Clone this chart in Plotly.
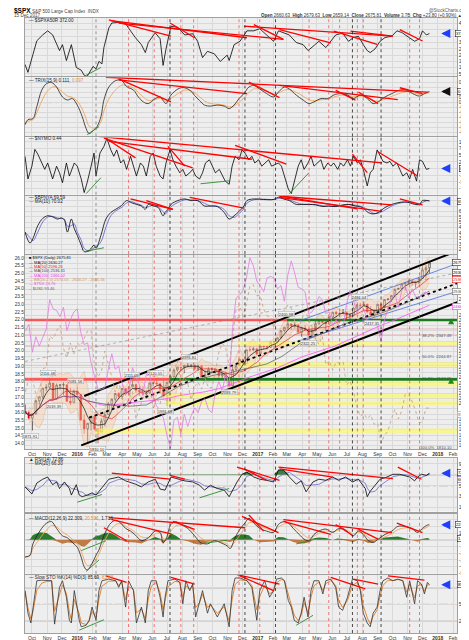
import pandas as pd
import plotly.graph_objects as go

# ------------------------------------------------------------------ DATA
# weekly S&P 500 bars (Fridays, first = 18 Sep 2015)
week_first = "2015-09-18"
spx_first_open = 1963
spx_close = [1958,1931,1951,2014,2033,2075,2079,2099,2023,2089,
             2090,2091,2012,2005,2060,2044,1922,1880,1906,1940,
             1880,1864,1917,1948,1999,2022,2049,2035,2073,2047,
             2081,2092,2065,2057,2046,2052,2099,2099,2096,2071,
             2037,2103,2130,2162,2175,2173,2183,2184,2184,2169,
             2180,2128,2139,2165,2168,2153,2133,2141,2126,2085,
             2164,2182,2213,2192,2259,2258,2263,2239,2277,2275,
             2271,2295,2297,2316,2351,2367,2383,2373,2378,2344,
             2363,2355,2329,2349,2384,2399,2391,2382,2416,2439,
             2432,2433,2438,2423,2425,2459,2473,2472,2477,2441,
             2426,2443,2477,2461,2500,2502,2519,2549,2553,2575,
             2581,2588,2582,2579,2602,2642,2652,2676]
spx_high = [1996,1968,1953,2020,2034,2075,2094,2116,2093,2097,
            2094,2104,2090,2077,2067,2081,2038,1950,1908,1940,
            1947,1882,1930,1963,2009,2025,2052,2056,2075,2074,
            2083,2111,2097,2085,2084,2063,2100,2104,2120,2087,
            2113,2104,2132,2169,2178,2178,2186,2194,2190,2188,
            2188,2187,2163,2175,2175,2169,2163,2148,2154,2131,
            2182,2189,2214,2214,2259,2278,2274,2268,2282,2279,
            2282,2301,2300,2319,2352,2368,2401,2386,2390,2383,
            2370,2378,2361,2362,2398,2400,2404,2406,2418,2440,
            2446,2442,2454,2442,2433,2463,2478,2484,2491,2480,
            2468,2454,2480,2475,2501,2508,2520,2552,2557,2575,
            2582,2597,2595,2586,2605,2658,2665,2680]
spx_low = [1950,1923,1872,1949,1995,2022,2059,2072,2022,2019,
           2067,2042,2008,1993,2005,2038,1918,1857,1812,1872,
           1872,1810,1865,1891,1947,1979,2010,2022,2022,2039,
           2039,2079,2052,2039,2043,2025,2049,2085,2089,2050,
           2033,1992,2074,2125,2154,2157,2147,2174,2175,2160,
           2158,2127,2119,2139,2145,2145,2114,2124,2125,2083,
           2088,2156,2189,2187,2191,2250,2254,2233,2245,2258,
           2258,2267,2268,2289,2313,2342,2355,2354,2364,2339,
           2322,2352,2328,2321,2374,2379,2387,2352,2380,2413,
           2415,2418,2431,2403,2407,2418,2457,2459,2468,2437,
           2418,2417,2428,2446,2472,2495,2488,2520,2547,2550,
           2544,2573,2567,2557,2584,2600,2605,2625]
tnx_x10 = [21.3,21.7,19.9,20.9,20.3,20.8,21.4,23.3,22.7,22.6,
           22.2,22.8,21.3,22.0,22.5,22.7,21.2,20.4,20.5,19.2,
           18.4,17.5,17.5,17.6,18.8,19.8,18.8,19.0,17.9,17.2,
           17.5,18.9,18.3,17.8,17.1,18.5,18.5,17.0,16.4,16.2,
           15.6,14.5,13.7,15.5,15.7,14.6,15.9,15.1,15.8,16.3,
           16.0,16.7,16.9,16.2,16.0,17.3,18.0,17.4,18.5,17.8,
           21.5,23.4,23.6,23.9,24.7,26.0,25.5,24.5,24.2,23.8,
           24.7,24.8,24.7,24.0,24.2,23.2,24.9,25.8,25.0,24.1,
           24.0,23.8,22.4,22.5,22.9,23.5,23.3,22.4,22.5,21.6,
           22.0,21.5,21.5,23.0,23.9,23.3,22.4,22.9,22.7,21.9,
           21.9,21.7,21.6,20.6,22.0,22.6,23.3,23.7,22.8,23.9,
           24.2,23.4,24.0,23.5,23.4,23.7,23.8,23.5]
usd_index = [95.1,96.1,96.1,94.9,94.5,96.8,96.9,99.2,99.0,99.6,
             100.0,98.3,97.6,98.7,97.9,98.7,98.5,99.0,99.6,99.6,
             97.0,96.2,96.6,98.1,97.2,96.2,95.1,95.9,94.6,94.1,
             94.6,95.1,93.1,93.9,94.6,95.3,95.5,93.9,94.6,94.2,
             95.5,95.6,96.3,96.6,97.4,95.6,96.2,95.7,94.5,95.5,
             95.8,95.3,96.1,95.4,95.4,96.6,98.0,98.7,98.3,97.0,
             99.0,101.2,101.5,100.7,101.6,102.9,103.0,102.2,102.2,101.2,
             100.7,100.6,99.8,100.8,100.9,101.1,101.5,101.3,100.3,99.7,
             100.4,101.1,100.5,99.9,99.0,98.6,99.2,97.1,97.4,96.7,
             97.3,97.2,97.3,95.6,95.9,95.1,94.0,93.3,93.5,93.1,
             93.4,92.7,92.8,91.3,91.9,92.2,93.1,93.8,93.1,93.7,
             94.9,94.9,94.4,93.7,92.8,92.9,93.9,93.9]

# indicator readings: days from 1 Jan 2016 / value
a50_days = [-106,-100,-90,-82,-70,-60,-50,-36,-30,-22,-12,-2,8,14,20,26,32,38,44,50,
            54,64,70,84,98,108,118,130,138,144,158,168,174,180,184,190,204,218,234,244,
            254,264,278,290,304,308,318,330,344,358,370,384,398,408,418,430,444,458,468,478,
            490,504,514,524,538,550,560,570,580,588,594,604,614,624,638,648,658,670,684,694,
            700,708,714]
a50_vals = [126,63,204,314,361,393,361,236,283,157,283,102,80,40,30,70,110,90,150,130,
            260,416,455,460,450,393,338,283,220,300,377,330,118,250,330,430,420,360,370,310,
            180,230,210,150,200,157,283,310,393,393,410,360,310,393,380,360,300,283,236,270,
            310,260,310,360,375,310,340,350,283,236,220,250,310,340,350,393,380,350,310,330,
            393,360,372]
trix_days = [-106,-100,-90,-82,-72,-62,-52,-42,-30,-20,-10,0,10,18,24,34,40,48,54,64,
             78,90,100,114,124,134,144,158,168,174,180,190,204,214,228,238,248,258,270,284,
             298,308,318,328,338,348,358,370,384,398,408,420,430,444,458,470,480,494,508,520,
             534,548,560,574,588,600,610,624,638,654,668,680,694,704,714]
trix_vals = [-0.22,-0.17,-0.16,-0.04,0.125,0.19,0.20,0.155,0.056,0.026,
             0.04,-0.025,-0.14,-0.26,-0.31,-0.27,-0.24,-0.14,0.025,0.155,
             0.22,0.22,0.16,0.125,0.056,0.007,-0.01,0.04,0.056,0.02,
             -0.01,0.075,0.135,0.15,0.125,0.07,0.02,-0.025,-0.035,-0.025,
             -0.035,-0.06,-0.025,0.04,0.09,0.155,0.17,0.135,0.09,0.056,
             0.105,0.155,0.135,0.075,0.025,-0.01,0.007,0.04,0.04,0.075,
             0.09,0.075,0.04,0.075,0.04,-0.01,0.007,0.056,0.09,0.125,
             0.125,0.09,0.065,0.09,0.111]
nymo_days = [-106,-100,-92,-86,-80,-72,-66,-60,-50,-42,-36,-30,-22,-16,-6,0,8,14,20,28,
             34,38,46,54,60,68,74,80,88,94,100,108,114,120,128,134,140,148,154,160,
             168,174,180,188,194,200,208,214,220,228,234,240,248,254,260,268,274,280,288,294,
             300,308,314,320,328,334,340,348,354,360,368,374,380,388,394,400,408,414,420,428,
             434,440,448,454,460,468,474,480,488,494,500,508,514,520,528,534,540,548,554,560,
             568,574,580,588,594,600,608,614,620,628,634,640,648,654,660,668,674,680,688,694,
             700,708,714]
nymo_vals = [46,-39,9,72,54,21,-3,21,-39,9,-16,-53,21,-28,21,9,-39,-90,-53,9,
             58,-28,58,83,113,70,46,70,21,33,-3,46,9,-28,21,9,-28,46,58,9,
             -28,-39,21,70,33,9,-16,-3,-28,-16,-3,-28,-39,-16,21,33,9,-16,-3,-28,
             -47,-59,9,46,33,70,58,33,46,21,33,9,21,33,9,15,21,9,-28,-77,
             -94,-53,9,33,-3,21,46,9,21,33,-3,21,9,21,-3,21,9,33,9,46,
             21,33,-3,-65,-16,-3,70,46,27,21,27,9,21,-3,-28,-16,-39,-3,-47,33,
             27,-3,0.44]
bpnya_days = [-106,-96,-90,-80,-70,-60,-50,-40,-32,-26,-20,-12,-6,0,8,14,24,34,38,48,
              58,68,78,90,100,110,120,130,138,144,154,164,174,178,184,190,204,218,230,244,
              258,270,284,298,308,318,328,338,344,358,378,398,408,418,430,444,458,470,484,498,
              510,524,538,550,564,578,590,600,610,624,638,650,664,674,684,694,700,710,714]
bpnya_vals = [41,31,35,47,53.6,56,55,53,54,51.8,41,53,44,38,29,23,24,29,26,38,
              53,59,62,65.5,70,68,66.5,65,62,66.5,65,63.6,56,59,62,66.5,70,71.5,70,70,
              65,65,64.5,59,53,56,60,65,70,71.5,71,71,73,71.5,70,66.5,66.5,66.5,66,64.5,
              65,64.5,66,66.5,65,63.6,59,57.7,59,63.6,66.5,68,68.8,68,66.5,66.5,70,70,69.59]
macd_days = [-106,-96,-90,-76,-62,-52,-42,-30,-20,-10,0,8,14,20,30,38,44,50,58,68,
             78,88,98,108,118,130,144,158,168,174,180,190,200,210,224,238,250,264,278,290,
             304,310,320,330,340,348,358,370,384,398,408,418,428,438,450,460,470,480,490,504,
             518,528,538,550,560,570,580,590,600,610,624,638,650,664,678,690,700,710,714]
macd_vals = [-25.6,-23,-6,13,25,27,17,6,3,-4,-11,-26,-40,-45,-35,-23,-15,-2,13,25,
             29,25,17,13,7,-1,3,13,11,-4,1,23,27,23,17,6,-4,-6,-1,-4,
             -9,-13,3,16,25,32,25,17,13,11,23,27,25,17,8,1,-1,8,13,16,
             11,16,17,11,6,13,8,-1,-4,1,8,13,20,20,17,11,17,22,22.3]
rsi_days = [-106,-96,-92,-82,-70,-60,-50,-42,-36,-26,-16,-12,-2,4,10,20,30,38,48,58,
            64,84,98,118,130,144,158,168,178,190,204,218,234,248,258,270,284,298,308,324,
            334,344,358,370,384,398,408,418,430,444,454,464,478,490,504,518,530,544,558,570,
            584,588,594,604,614,628,640,654,664,674,684,690,698,708,714]
rsi_vals = [48,40,35,55,62,66,52,57,45,57,45,33,52,33,30,33,37,33,45,57,
            62,66,59,53,48,57,62,44,42,66,62,59,57,51,42,51,45,42,30,57,
            71,75,66,62,60,57,79,79,66,53,59,39,57,62,60,66,60,66,57,62,
            45,30,40,50,62,66,71,71,69,66,59,66,71,69,72.86]
sto_days = [-106,-100,-94,-90,-82,-72,-62,-52,-46,-36,-30,-22,-16,-12,-6,4,8,18,24,30,
            38,44,50,64,78,84,90,98,104,114,120,130,138,144,150,160,168,174,178,184,
            198,208,214,220,228,234,240,248,254,264,270,284,298,308,314,320,330,344,354,364,
            370,380,390,398,404,414,420,428,434,440,448,454,460,468,474,480,490,498,504,514,
            524,530,538,548,558,568,574,580,588,594,600,608,614,620,630,640,650,660,668,674,
            684,690,698,704,710,714]
sto_vals = [75,34,16,41,93,94,93,93,14,81,93,63,21,16,75,21,9,12,21,45,
            21,75,93,96,93,81,93,45,93,75,16,45,16,75,93,93,63,27,63,93,
            96,90,51,93,75,87,27,57,75,34,51,27,51,9,75,98,98,93,81,21,
            75,93,63,75,96,98,93,57,45,21,16,34,63,27,75,93,93,69,93,96,
            81,45,39,63,96,93,75,34,16,9,34,45,75,93,98,93,96,93,63,93,
            51,93,87,69,90,85.69]

# analyst trend lines (day0, value0, day1, value1)
a50_red = [(64,481,190,351),(68,474,344,338),(84,455,418,325),(188,455,238,338),(358,442,418,325),
           (338,430,640,351),(410,403,514,298),(520,390,608,285),(554,390,640,351),(654,403,700,312)]
a50_green = [(18,40,48,102)]
trix_red = [(58,0.253,710,0.105),(84,0.237,190,0.007),(84,0.227,344,0.089),(348,0.204,410,0.049),
            (410,0.171,650,0.030),(524,0.122,564,0.024),(570,0.105,610,-0.01),(654,0.148,700,0.089)]
trix_green = [(20,-0.32,44,-0.24)]
nymo_red = [(44,120,618,21),(54,114,234,3),(58,114,118,40),(64,102,354,35),(184,83,218,9),
            (320,87,424,17),(558,54,588,-15),(608,65,690,-28)]
nymo_green = [(18,-94,48,-34),(250,-57,308,-46),(430,-94,470,-15)]
bpnya_red = [(108,71.5,194,61.8),(140,70,194,62),(228,73,338,63),(408,74.5,568,62.4),
             (410,73,618,60),(410,74,638,66),(654,71.5,700,66)]
bpnya_green = [(14,23,54,26.6)]
rsi_red = [(70,73,188,62),(188,69,218,62),(324,84,410,60),(338,81,384,60),(408,84,640,63),
           (410,81,518,66),(650,84,698,62)]
rsi_green = [(0,20,50,34),(248,28,308,45)]
macd_red = [(64,33,340,18),(70,30,190,8.7),(54,18,100,-1.4),(194,27.5,238,15.5),(334,34.8,408,10.6),
            (348,37,378,13),(418,30,638,10.6),(418,27.5,514,8.2),(524,22.7,560,5.8),(570,15.5,610,1),
            (648,25,700,10.6)]
macd_green = [(8,-16,58,-1.4),(18,-47,44,-30),(250,-6,304,-0.4),(444,-6,474,-1.4)]
sto_red = [(58,102,100,90),(190,99,238,87),(324,104,410,87),(330,102,398,75),(514,99,584,78),
           (560,96,610,87),(630,102,704,94)]
sto_green = [(4,3,54,22),(444,12,478,30)]

# price-panel drawings
channel_lines = [(8,1800,802,2515,"black",2.0,"solid"),
                 (14,2037,802,2762,"black",2.0,"solid"),
                 (24,1933,802,2605,"black",1.8,"dot"),
                 (450,2397,802,2700,"#4a6ee0",0.8,"solid"),
                 (450,2302,802,2563,"#4a6ee0",0.8,"solid"),
                 (-106,2203,802,2643,"#888888",0.6,"dot")]
level_lines = [(2402,-106,425,"rgba(255,40,40,0.75)",2.6),(2402,425,770,"#1f7a1f",2.6),
               (2117,-106,188,"rgba(255,40,40,0.75)",2.6),(2117,188,770,"#1f7a1f",2.6),
               (2359,-106,770,"rgba(220,90,90,0.55)",0.6),(2330,-106,770,"rgba(220,90,90,0.55)",0.6),
               (2278,-106,770,"rgba(220,90,90,0.55)",0.6),(2184,-106,770,"rgba(220,90,90,0.55)",0.6),
               (2288,324,770,"rgba(255,250,90,0.6)",4.5),(2188,324,770,"rgba(255,250,90,0.6)",4.5),
               (2094,324,770,"rgba(255,250,90,0.6)",4.5),(2037,178,770,"rgba(255,250,90,0.6)",4.5),
               (2004,178,770,"rgba(255,250,90,0.6)",4.5),(1871,38,770,"rgba(255,250,90,0.6)",4.5)]
fib_labels = [("38.2%  2347.49",2347.49),("50.0%  2244.87",2244.87),("61.8%  2142.25",2142.25),("100.0%  1810.10",1810.10)]
price_notes = [("2015-09-29",1871.91,-1),("2015-11-03",2116.48,1),("2015-11-16",2019.39,-1),
               ("2015-12-29",2081.56,1),("2016-02-11",1810.10,-1),("2016-04-20",2111.05,1),
               ("2016-06-08",2120.55,1),("2016-06-27",1991.68,-1),("2016-08-15",2193.81,1),
               ("2016-11-04",2083.79,-1),("2017-03-01",2400.98,1),("2017-04-13",2322.25,-1),
               ("2017-07-27",2484.04,1),("2017-08-21",2417.35,-1)]
event_lines = [(38,"#777777"),(104,"red"),(156,"red"),(188,"black"),(210,"red"),(236,"red"),
               (328,"red"),(340,"black"),(370,"red"),(402,"black"),(470,"red"),(510,"red"),
               (532,"red"),(558,"black"),(568,"red"),(580,"red"),(616,"black"),(674,"red"),(694,"red")]

# right-edge value boxes: (axis, value, text, border colour, text colour, yshift)
value_boxes = [("y", 372, "372.00", "#222", "#000", 0), ("y2", 0.111, "0.111", "#222", "#000", 0),
               ("y3", 0.44, "0.44", "#222", "#000", 0), ("y4", 69.59, "69.59", "#222", "#000", 0),
               ("y5", 2675.81, "2675.81", "#222", "#000", 0), ("y5", 2630.27, "2630.27", "#222", "#000", 0),
               ("y5", 2596.26, "2596.26", "#e02020", "#e02020", 0), ("y5", 2536.31, "2536.31", "#666", "#444", 0),
               ("y5", 2466.02, "2466.02", "#ee33ee", "#cc22cc", 0), ("y7", 93.46, "93.46", "#c49a78", "#8a5a3a", 0),
               ("y8", 72.86, "72.86", "#222", "#000", 1), ("y8", 66.30, "66.30", "#5a5acd", "#000", -3),
               ("y9", 22.3, "22.309", "#222", "#000", 0), ("y9", 1.72, "1.718", "#222", "#000", 0),
               ("y10", 85.69, "85.69", "#222", "#000", 0)]
arrow_marks = [("y", 372, "#1f3fff"), ("y2", 0.111, "#111"), ("y3", 0.44, "#1f3fff"), ("y4", 69.59, "#1f3fff"),
               ("y8", 72.86, "#1f3fff"), ("y9", 22.3, "#1f3fff"), ("y10", 85.69, "#1f3fff")]

# ------------------------------------------------------------------ helpers
W, H = 469, 640
ML, MR, MT, MB = 15, 16, 10, 7
PW, PH = W - ML - MR, H - MT - MB
def fx(p): return (p - ML) / PW
def fy(p): return (H - MB - p) / PH
def dom(top, bot): return [fy(bot), fy(top)]

BASE = pd.Timestamp("2016-01-01")
def D(d): return BASE + pd.Timedelta(days=int(d))
def dates(ds): return [D(d) for d in ds]

FONT = "Liberation Sans, Arial, sans-serif"
BG, GRID = "#eeeeee", "#d9d9d9"
RED, GREEN, ORANGE, BLUE = "#ff0000", "#2e8b2e", "#f2a65a", "#5a5acd"

fig = go.Figure()

def line(x, y, xa, ya, color, width=0.8, dash="solid", shape="linear"):
    fig.add_trace(go.Scatter(x=x, y=y, xaxis=xa, yaxis=ya, mode="lines",
                             line=dict(color=color, width=width, dash=dash, shape=shape),
                             hoverinfo="skip", showlegend=False))

def segs(lst, xa, ya, color, width):
    xs, ys = [], []
    for d0, v0, d1, v1 in lst:
        xs += [D(d0), D(d1), None]
        ys += [v0, v1, None]
    line(xs, ys, xa, ya, color, width)

panels = {
    "a50":  dict(x="x",  y="y",   top=10,  bot=69,  rng=[32, 495],        ticks=list(range(50, 451, 50)), fmt="%g"),
    "trix": dict(x="x2", y="y2",  top=70,  bot=130, rng=[-0.338, 0.253],  ticks=[round(-0.30 + 0.05*i, 2) for i in range(11)], fmt="%.2f"),
    "nymo": dict(x="x3", y="y3",  top=131, bot=189, rng=[-98, 116.7],     ticks=list(range(-75, 101, 25)), fmt="%g"),
    "bp":   dict(x="x4", y="y4",  top=190, bot=249, rng=[20.9, 74.5],     ticks=list(range(20, 71, 5)), fmt="%g"),
    "main": dict(x="x5", y="y5",  top=250, bot=447, rng=[1781, 2714],     ticks=list(range(1800, 2701, 25)), fmt="%g"),
    "rsi":  dict(x="x6", y="y8",  top=456, bot=510, rng=[2.8, 100.3],     ticks=[10, 30, 50, 70, 90], fmt="%g"),
    "macd": dict(x="x7", y="y9",  top=512, bot=573, rng=[-50.5, 39.1],    ticks=list(range(-50, 31, 10)), fmt="%g"),
    "sto":  dict(x="x8", y="y10", top=574, bot=633, rng=[-2.2, 103.9],    ticks=[20, 50, 80], fmt="%g"),
}
USD_RNG = [90.85, 105.2]

def pix(panel, rng, v):
    return panel["top"] + (rng[1] - v) / (rng[1] - rng[0]) * (panel["bot"] - panel["top"])

# ------------------------------------------------------------------ panel 1-4
p = panels["a50"]
line(dates(a50_days), a50_vals, p["x"], p["y"], "black", 0.8)
segs(a50_red, p["x"], p["y"], RED, 1.3); segs(a50_green, p["x"], p["y"], GREEN, 0.9)

p = panels["trix"]
trix = pd.Series(trix_vals)
line(dates(trix_days), trix.ewm(alpha=0.5).mean().tolist(), p["x"], p["y"], ORANGE, 0.9, shape="spline")
line(dates(trix_days), trix_vals, p["x"], p["y"], "#222222", 0.8, shape="spline")
segs(trix_red, p["x"], p["y"], RED, 1.3); segs(trix_green, p["x"], p["y"], GREEN, 0.9)

p = panels["nymo"]
line(dates(nymo_days), nymo_vals, p["x"], p["y"], "black", 0.8)
segs(nymo_red, p["x"], p["y"], RED, 1.3); segs(nymo_green, p["x"], p["y"], GREEN, 0.9)

p = panels["bp"]
bp = pd.Series(bpnya_vals)
line(dates(bpnya_days), bp.rolling(2, min_periods=1).mean().tolist(), p["x"], p["y"], BLUE, 0.8, shape="spline")
line(dates(bpnya_days), bpnya_vals, p["x"], p["y"], "black", 0.8, shape="spline")
segs(bpnya_red, p["x"], p["y"], RED, 1.3); segs(bpnya_green, p["x"], p["y"], GREEN, 0.9)

# ------------------------------------------------------------------ main price panel
weeks = pd.date_range(week_first, periods=len(spx_close), freq="7D")
close = pd.Series(spx_close, index=weeks)
spx_open = [spx_first_open] + spx_close[:-1]
mid = close.rolling(4, min_periods=2).mean()
sd = close.rolling(4, min_periods=2).std()
bb_up, bb_lo = (mid + 2*sd), (mid - 2*sd)
fig.add_trace(go.Scatter(x=weeks, y=bb_lo, xaxis="x5", yaxis="y5", mode="lines",
                         line=dict(color="rgba(220,160,110,0.7)", width=0.5), hoverinfo="skip", showlegend=False))
fig.add_trace(go.Scatter(x=weeks, y=bb_up, xaxis="x5", yaxis="y5", mode="lines", fill="tonexty",
                         fillcolor="rgba(246,205,168,0.45)",
                         line=dict(color="rgba(220,160,110,0.7)", width=0.5), hoverinfo="skip", showlegend=False))
line(weeks, tnx_x10, "x5", "y6", "#e27ae2", 0.8)
line(weeks, usd_index, "x5", "y7", "#c49a78", 0.8, dash="dot")
for lvl, d0, d1, col, w in level_lines:
    line([D(d0), D(d1)], [lvl, lvl], "x5", "y5", col, w)
for d0, v0, d1, v1, col, w, dash in channel_lines:
    line([D(d0), D(d1)], [v0, v1], "x5", "y5", col, w, dash=dash)
line(weeks, close.rolling(40, min_periods=1).mean(), "x5", "y5", "#ff4cff", 0.8)
line(weeks, close.rolling(20, min_periods=1).mean(), "x5", "y5", "#555555", 0.7)
line(weeks, close.rolling(10, min_periods=1).mean(), "x5", "y5", "#e03030", 0.7)
line(weeks, close.rolling(4, min_periods=1).mean(), "x5", "y5", "#111111", 0.7)
fig.add_trace(go.Candlestick(x=weeks, open=spx_open, high=spx_high, low=spx_low, close=spx_close,
                             xaxis="x5", yaxis="y5", whiskerwidth=0, hoverinfo="skip", showlegend=False,
                             increasing=dict(line=dict(color="black", width=0.6), fillcolor="white"),
                             decreasing=dict(line=dict(color="#dd0000", width=0.6), fillcolor="#dd0000")))
fig.add_trace(go.Scatter(x=[D(758), D(758)], y=[2410, 2125], xaxis="x5", yaxis="y5", mode="markers",
                         marker=dict(symbol="arrow-up", size=6, color="#1a8a1a"), hoverinfo="skip", showlegend=False))

# ------------------------------------------------------------------ RSI
rsi = pd.Series(rsi_vals)
rd = dates(rsi_days)
line(rd, [70]*len(rd), "x6", "y8", "rgba(0,0,0,0)", 0.1)
fig.add_trace(go.Scatter(x=rd, y=rsi.clip(lower=70).tolist(), xaxis="x6", yaxis="y8", mode="lines", fill="tonexty",
                         fillcolor="#3f7f3f", line=dict(width=0, color="rgba(0,0,0,0)"), hoverinfo="skip", showlegend=False))
line(rd, rsi.rolling(3, min_periods=1).mean().tolist(), "x6", "y8", BLUE, 0.7)
line(rd, rsi_vals, "x6", "y8", "black", 0.8)
segs(rsi_red, "x6", "y8", RED, 1.3); segs(rsi_green, "x6", "y8", GREEN, 0.9)

# ------------------------------------------------------------------ MACD
md = dates(macd_days)
macd = pd.Series(macd_vals)
sig = macd.ewm(alpha=0.55).mean()
hist = macd - sig
fig.add_trace(go.Scatter(x=md, y=hist.clip(lower=0).tolist(), xaxis="x7", yaxis="y9", mode="lines", fill="tozeroy",
                         fillcolor="#2f7a2f", line=dict(width=0, color="rgba(0,0,0,0)"), hoverinfo="skip", showlegend=False))
fig.add_trace(go.Scatter(x=md, y=hist.clip(upper=0).tolist(), xaxis="x7", yaxis="y9", mode="lines", fill="tozeroy",
                         fillcolor="#bf7a45", line=dict(width=0, color="rgba(0,0,0,0)"), hoverinfo="skip", showlegend=False))
line(md, sig.tolist(), "x7", "y9", ORANGE, 0.9, shape="spline")
line(md, macd_vals, "x7", "y9", "#222222", 0.8, shape="spline")
segs(macd_red, "x7", "y9", RED, 1.3); segs(macd_green, "x7", "y9", GREEN, 0.9)

# ------------------------------------------------------------------ Slow STO
sd_ = dates(sto_days)
sto = pd.Series(sto_vals)
line(sd_, sto.ewm(alpha=0.7).mean().tolist(), "x8", "y10", "#e0883a", 1.0)
line(sd_, sto_vals, "x8", "y10", "#333333", 0.8)
segs(sto_red, "x8", "y10", RED, 1.3); segs(sto_green, "x8", "y10", GREEN, 0.9)

# ------------------------------------------------------------------ layout
months = pd.date_range("2015-10-01", "2018-02-01", freq="MS")
mtext = [("<b>%d</b>" % m.year) if m.month == 1 else m.strftime("%b") for m in months]
xr = [D(-106), D(770)]
layout = dict(width=W, height=H, margin=dict(l=ML, r=MR, t=MT, b=MB), paper_bgcolor="white",
              plot_bgcolor=BG, showlegend=False, hovermode=False, font=dict(family=FONT, size=5, color="#333"))

# pixel rows covered by value boxes on each panel (tick labels there are left blank)
box_rows = {}
for ax, v, t, bc, fc, ys in value_boxes:
    if ax == "y7":
        key, rng = "main", USD_RNG
    else:
        key = [k for k, pp in panels.items() if pp["y"] == ax][0]
        rng = panels[key]["rng"]
    box_rows.setdefault(key, []).append(pix(panels[key], rng, v) - ys)

for key, p in panels.items():
    xname = "xaxis" + p["x"][1:]
    yname = "yaxis" + p["y"][1:]
    layout[xname] = dict(domain=[0, 1], anchor=p["y"], range=xr, tickmode="array", tickvals=list(months),
                         ticktext=mtext, showticklabels=key in ("main", "sto"), showgrid=True, gridcolor=GRID,
                         gridwidth=0.6, zeroline=False, showline=True, mirror=True, linecolor="#a0a0a0",
                         linewidth=0.7, ticks="", tickfont=dict(size=5, color="#333"),
                         rangeslider=dict(visible=False))
    if p["x"] != "x":
        layout[xname]["matches"] = "x"
    rows = box_rows.get(key, [])
    ttext = []
    for tv in p["ticks"]:
        py = pix(p, p["rng"], tv)
        hidden = any(abs(py - r) < 5.4 for r in rows)
        ttext.append("" if hidden else (p["fmt"] % tv))
    layout[yname] = dict(domain=dom(p["top"], p["bot"]), anchor=p["x"], range=p["rng"], side="right",
                         tickmode="array", tickvals=p["ticks"], ticktext=ttext, showgrid=True,
                         gridcolor=GRID, gridwidth=0.5, zeroline=False, showline=True, mirror=True,
                         linecolor="#a0a0a0", linewidth=0.7, ticks="",
                         tickfont=dict(size=4.6 if key == "main" else 5, color="#333"))
layout["yaxis6"] = dict(overlaying="y5", anchor="x5", side="left", range=[13.62, 26.19],
                        tickmode="array", tickvals=[14 + 0.5*i for i in range(25)], tickformat=".1f",
                        showgrid=False, zeroline=False, ticks="", tickfont=dict(size=4.8, color="#333"))
layout["yaxis7"] = dict(overlaying="y5", anchor="x5", range=USD_RNG, visible=False)

shapes = []
for key, p in panels.items():
    yd = p["y"] + " domain"
    for d, c in event_lines:
        col = {"red": "rgba(235,60,60,0.85)", "black": "#202020"}.get(c, c)
        shapes.append(dict(type="line", xref=p["x"], yref=yd, x0=D(d), x1=D(d), y0=0, y1=1,
                           line=dict(color=col, width=0.8, dash="dot"), layer="above"))
def hline(xa, ya, v, col="#8a8a8a", w=0.8, dash="solid"):
    shapes.append(dict(type="line", xref=xa + " domain", yref=ya, x0=0, x1=1, y0=v, y1=v,
                       line=dict(color=col, width=w, dash=dash), layer="below"))
hline("x2", "y2", 0, "#777", 0.7, "dashdot")
hline("x3", "y3", 0, "#999", 0.5, "dot")
hline("x6", "y8", 70); hline("x6", "y8", 30); hline("x6", "y8", 50, "#777", 0.7, "dashdot")
hline("x7", "y9", 0, "#888", 0.7)
hline("x8", "y10", 80); hline("x8", "y10", 20); hline("x8", "y10", 50, "#777", 0.7, "dashdot")
layout["shapes"] = shapes

ann = []
def txt(x, y, t, size=4.6, color="#222", xa="left", xref="paper", yref="paper", **kw):
    ann.append(dict(x=x, y=y, xref=xref, yref=yref, text=t, showarrow=False, xanchor=xa, yanchor="middle",
                    font=dict(size=size, color=color, family=FONT), **kw))
# header
txt(fx(2), fy(3), "<b>$SPX</b>", 6.5, "#000")
txt(fx(20), fy(3), "S&amp;P 500 Large Cap Index  INDX", 4.6, "#444")
txt(fx(2), fy(7.6), "15 Dec 2017", 4.6, "#444")
txt(fx(466), fy(2.8), "@StockCharts.com", 4.5, "#555", xa="right")
txt(fx(460), fy(7.6), "<b>Open</b> 2660.63  <b>High</b> 2679.63  <b>Low</b> 2659.14  <b>Close</b> 2675.81  "
    "<b>Volume</b> 3.7B  <b>Chg</b> +23.80 (+0.90%) ▲", 4.5, "#333", xa="right")
# panel legends
txt(fx(17), fy(13), "— $SPXA50R 372.00", 4.6, "#222")
txt(fx(17), fy(73), "— TRIX(15,9) 0.111, <span style='color:#e8903a'>0.097</span>", 4.6, "#222")
txt(fx(17), fy(132), "— $NYMO 0.44", 4.6, "#222")
txt(fx(17), fy(192), "— $BPNYA 69.59", 4.6, "#222")
txt(fx(17), fy(196), "<span style='color:#5a5acd'>—</span> MA(10) 70.02", 4.6, "#222")
main_leg = [("■ $SPX (Daily) 2675.81", "#111"), ("— MA(20) 2630.27", "#111"), ("— MA(50) 2596.26", "#e02020"),
            ("— MA(100) 2536.31", "#444"), ("— MA(200) 2466.02", "#ee33ee"),
            ("— BB(20,2.0) 2574.01 - 2630.27 - 2685.56", "#d09060"), ("— $TNX 23.76", "#d860d8"),
            ("-- $USD 93.46", "#666")]
for i, (t, c) in enumerate(main_leg):
    txt(fx(17), fy(253 + 4.4*i), t, 4.0, c)
txt(fx(17), fy(457), "▲ RSI(14) 72.86", 4.6, "#222")
txt(fx(17), fy(461.5), "<span style='color:#5a5acd'>—</span> MA(20) 66.30", 4.6, "#222")
txt(fx(17), fy(517), "— MACD(12,26,9) 22.309, <span style='color:#e8903a'>20.591</span>, 1.718", 4.6, "#222")
txt(fx(17), fy(576.5), "— Slow STO %K(14) %D(3) 85.69, <span style='color:#e8903a'>83.98</span>", 4.6, "#222")

for ax, v, t, bc, fc, ys in value_boxes:
    ann.append(dict(xref="paper", x=fx(466), xanchor="right", yref=ax, y=v, yshift=ys, text=t,
                    showarrow=False, font=dict(size=4.2, color=fc, family=FONT), bgcolor="white",
                    bordercolor=bc, borderwidth=0.6, borderpad=0.4))
for ax, v, col in arrow_marks:
    ann.append(dict(xref="paper", x=fx(437), yref=ax, y=v, ax=8, ay=0, showarrow=True, arrowhead=2,
                    arrowsize=0.7, arrowwidth=2.6, arrowcolor=col, text=""))
for t, v in fib_labels:
    ann.append(dict(xref="x5", yref="y5", x=D(764), y=v, yshift=-4, text=t, showarrow=False, xanchor="right",
                    font=dict(size=4.2, color="#555", family=FONT)))
for d, v, side in price_notes:
    ann.append(dict(xref="x5", yref="y5", x=pd.Timestamp(d), y=v, yshift=6*side, text="%.2f" % v,
                    showarrow=False, font=dict(size=4.0, color="#333", family=FONT),
                    bgcolor="rgba(245,245,245,0.85)", bordercolor="#999", borderwidth=0.4, borderpad=0.3))
layout["annotations"] = ann

fig.update_layout(**layout)
fig.write_html("out.html")
